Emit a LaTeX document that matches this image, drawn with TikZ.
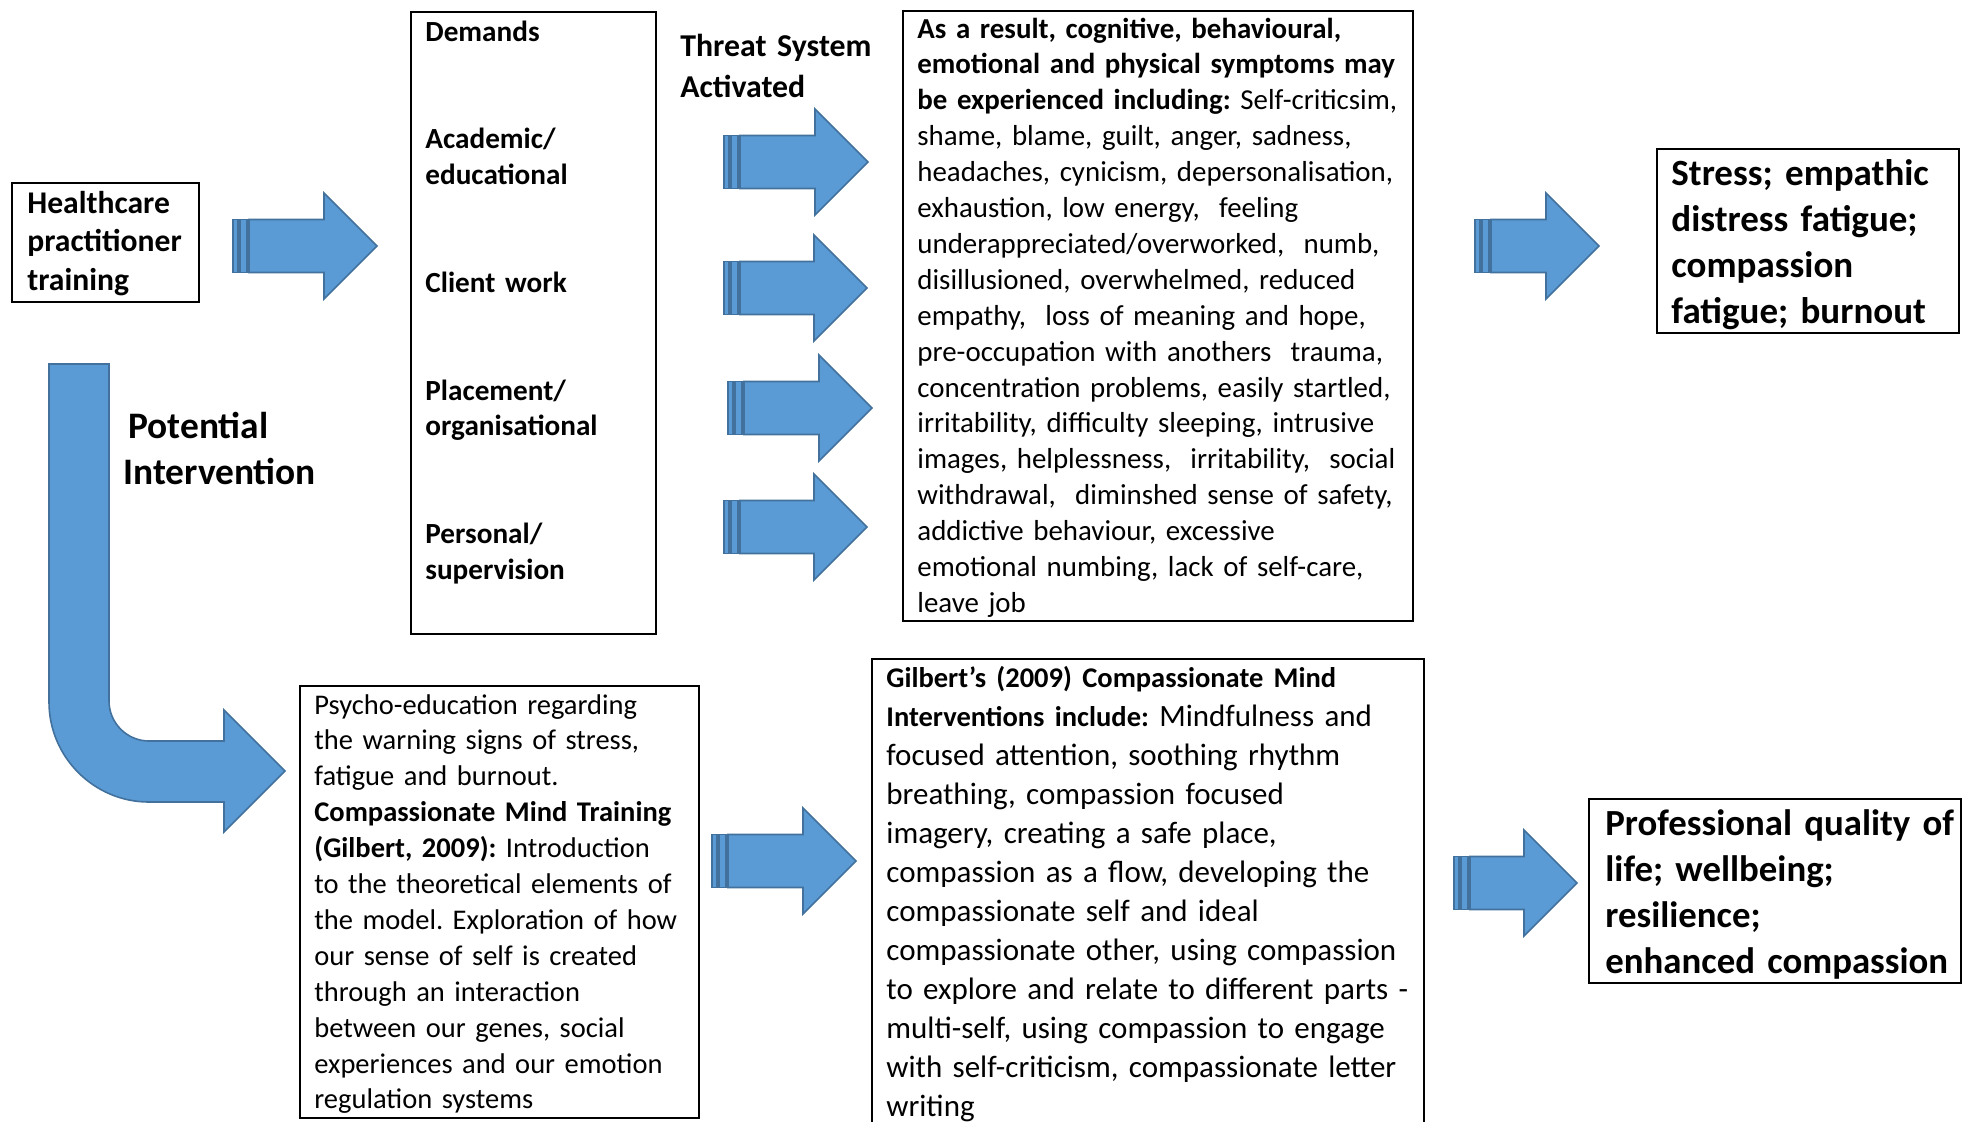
\documentclass[tikz,border=0pt]{standalone}
\usepackage{fontspec}
\setmainfont{Carlito}
\usetikzlibrary{positioning}
\frenchspacing
\definecolor{arrowblue}{HTML}{5B9BD5}
\definecolor{arrowedge}{HTML}{41719C}
\tikzset{
  panel/.style={draw, line width=1pt, anchor=north west, inner sep=0pt},
  txt/.style={anchor=base west, inner sep=0pt, text width=300pt, align=left},
  blockarrow/.style={fill=arrowblue, draw=arrowedge, line width=0.8pt, line join=miter},
}
% striped block arrow: #1 tail x, #2 centre y, #3 length
\newcommand{\stripearrow}[3]{%
  \filldraw[blockarrow] (#1,#2-26.5) rectangle ++(5,53);
  \filldraw[blockarrow] (#1+7,#2-26.5) rectangle ++(7,53);
  \filldraw[blockarrow] (#1+16,#2-26.5) -- (#1+#3-53,#2-26.5) -- (#1+#3-53,#2-53)
    -- (#1+#3,#2) -- (#1+#3-53,#2+53) -- (#1+#3-53,#2+26.5) -- (#1+16,#2+26.5) -- cycle;
}
\newcommand{\bodyfont}{\fontsize{14.45pt}{17.95pt}\selectfont}
\newcommand{\smallbody}{\fontsize{14.25pt}{17.95pt}\selectfont}

\begin{document}
\begin{tikzpicture}[x=0.5pt,y=-0.5pt]
	\useasboundingbox (0,0) rectangle (1964,1121);

	% boxes
	\node[panel, minimum width=93.5pt, minimum height=59.5pt] (train)  at (11,182)   {};
	\node[panel, minimum width=122.5pt, minimum height=311pt] (demand) at (410,11)   {};
	\node[panel, minimum width=255pt, minimum height=305pt]   (sympt)  at (902,10)   {};
	\node[panel, minimum width=151pt, minimum height=92pt]    (stress) at (1656,148) {};
	\node[panel, minimum width=199.5pt, minimum height=216pt] (psyed)  at (299,685)  {};
	\node[panel, minimum width=276pt, minimum height=240pt]   (cmt)    at (871,658)  {};
	\node[panel, minimum width=186pt, minimum height=92pt]    (proql)  at (1588,798) {};

	% texts
	\node[txt, font=\fontsize{15.8pt}{19.4pt}\selectfont\bfseries] (traintxt) at (27,213)
		{Healthcare\\practitioner\\training};
	\node[txt, font=\fontsize{14.6pt}{17.95pt}\selectfont\bfseries] (demandtxt) at (425,41)
		{Demands\\[35.9pt]Academic/\\educational\\[35.9pt]Client work\\[35.9pt]Placement/\\organisational\\[35.9pt]Personal/\\supervision};
	\node[txt, font=\fontsize{15.9pt}{20.5pt}\selectfont\bfseries] (threat) at (680,56)
		{Threat System\\Activated};
	\node[txt, font=\bodyfont] (sympttxt) at (917,38)
		{\textbf{As a result, cognitive, behavioural,}\\
		\textbf{emotional and physical symptoms may}\\
		\textbf{be experienced including:} Self-criticsim,\\
		shame, blame, guilt, anger, sadness,\\
		headaches, cynicism, depersonalisation,\\
		exhaustion, low energy,\ \ feeling\\
		underappreciated/overworked,\ \ numb,\\
		disillusioned, overwhelmed, reduced\\
		empathy,\ \ loss of meaning and hope,\\
		pre-occupation with anothers\ \ trauma,\\
		concentration problems, easily startled,\\
		irritability, difficulty sleeping, intrusive\\
		images, helplessness,\ \ irritability,\ \ social\\
		withdrawal,\ \ diminshed sense of safety,\\
		addictive behaviour, excessive\\
		emotional numbing, lack of self-care,\\
		leave job};
	\node[txt, font=\fontsize{18.5pt}{23pt}\selectfont\bfseries] (stresstxt) at (1671,185)
		{Stress; empathic\\distress fatigue;\\compassion\\fatigue; burnout};
	\node[txt, font=\fontsize{18.7pt}{23pt}\selectfont\bfseries] (interv) at (123,438)
		{\hspace*{2.5pt}Potential\\Intervention};
	\node[txt, font=\smallbody] (psyedtxt) at (314,714)
		{Psycho-education regarding\\
		the warning signs of stress,\\
		fatigue and burnout.\\
		\textbf{Compassionate Mind Training}\\
		\textbf{(Gilbert, 2009):} Introduction\\
		to the theoretical elements of\\
		the model. Exploration of how\\
		our sense of self is created\\
		through an interaction\\
		between our genes, social\\
		experiences and our emotion\\
		regulation systems};
	\node[txt, font=\fontsize{15.5pt}{19.5pt}\selectfont] (cmttxt) at (886,687)
		{{\smallbody\bfseries Gilbert’s (2009) Compassionate Mind}\\
		{\smallbody\bfseries Interventions include:} Mindfulness and\\
		focused attention, soothing rhythm\\
		breathing, compassion focused\\
		imagery, creating a safe place,\\
		compassion as a flow, developing the\\
		compassionate self and ideal\\
		compassionate other, using compassion\\
		to explore and relate to different parts -\\
		multi-self, using compassion to engage\\
		with self-criticism, compassionate letter\\
		writing};
	\node[txt, font=\fontsize{18.4pt}{23pt}\selectfont\bfseries] (proqltxt) at (1605,835)
		{Professional quality of\\life; wellbeing;\\resilience;\\enhanced compassion};

	% block arrows
	\stripearrow{233}{246}{144}
	\stripearrow{724}{162}{144}
	\stripearrow{724}{288}{143}
	\stripearrow{728}{408}{144}
	\stripearrow{724}{527}{143}
	\stripearrow{1475}{246}{124}
	\stripearrow{712}{861}{144}
	\stripearrow{1454}{883}{123}

	% bent arrow to the intervention
	\filldraw[blockarrow] (49,364) -- (49,702) .. controls (49,757) and (94,802) .. (149,802)
		-- (224,802) -- (224,832) -- (285,771) -- (224,710) -- (224,741) -- (149,741)
		.. controls (127,741) and (109,723) .. (109,701) -- (109,364) -- cycle;
\end{tikzpicture}
\end{document}
